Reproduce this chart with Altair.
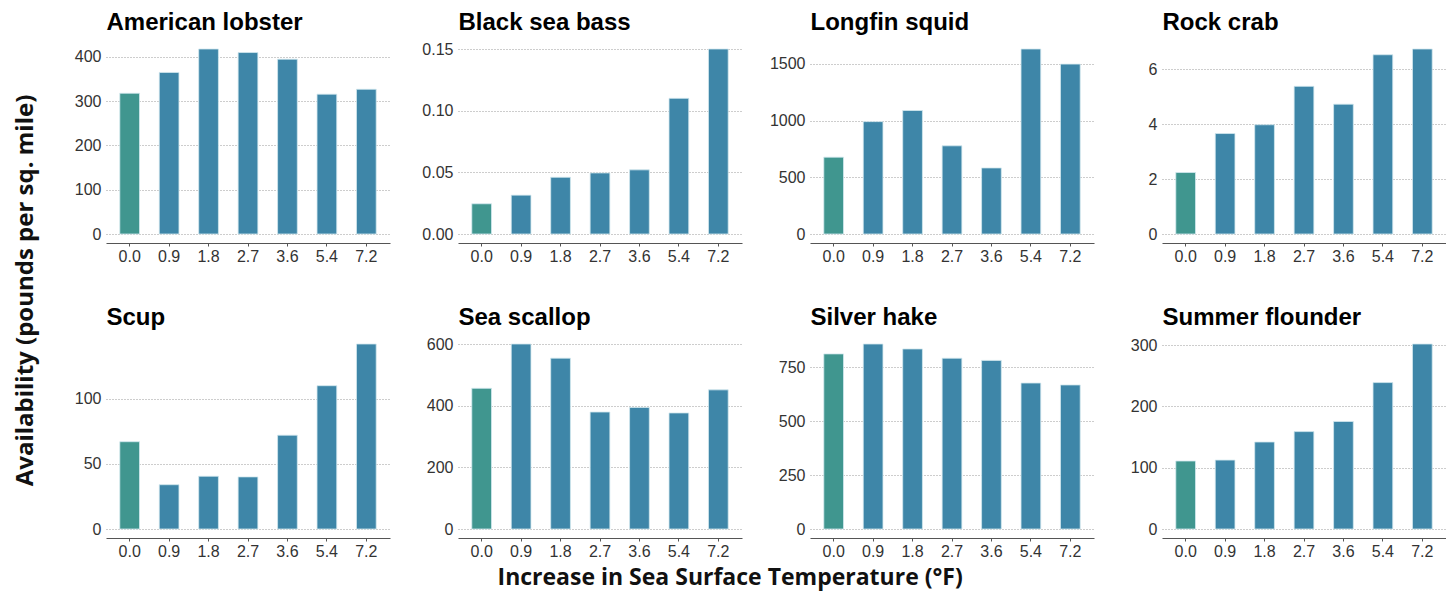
import altair as alt
import pandas as pd

# ---- data ----
temps = ["0.0", "0.9", "1.8", "2.7", "3.6", "5.4", "7.2"]
species = ["American lobster", "Black sea bass", "Longfin squid", "Rock crab",
           "Scup", "Sea scallop", "Silver hake", "Summer flounder"]

american_lobster = [318, 365, 418, 410, 395, 316, 327]
black_sea_bass = [0.0245, 0.0315, 0.046, 0.0495, 0.052, 0.110, 0.150]
longfin_squid = [677, 990, 1088, 777, 582, 1630, 1497]
rock_crab = [2.24, 3.66, 3.98, 5.38, 4.73, 6.53, 6.74]
scup = [67, 34, 40.5, 40, 72, 110, 142]
sea_scallop = [457, 601, 555, 380, 395, 377, 452]
silver_hake = [812, 858, 835, 792, 782, 677, 668]
summer_flounder = [111, 112.5, 142, 159, 175.5, 239, 302]

values = [american_lobster, black_sea_bass, longfin_squid, rock_crab,
          scup, sea_scallop, silver_hake, summer_flounder]

ticks_lobster = [0, 100, 200, 300, 400]
ticks_bass = [0.0, 0.05, 0.10, 0.15]
ticks_squid = [0, 500, 1000, 1500]
ticks_crab = [0, 2, 4, 6]
ticks_scup = [0, 50, 100]
ticks_scallop = [0, 200, 400, 600]
ticks_hake = [0, 250, 500, 750]
ticks_flounder = [0, 100, 200, 300]
tick_sets = [ticks_lobster, ticks_bass, ticks_squid, ticks_crab,
             ticks_scup, ticks_scallop, ticks_hake, ticks_flounder]
formats = ["d", ".2f", "d", "d", "d", "d", "d", "d"]

LABEL_FONT = "Liberation Sans"
TITLE_FONT = "Open Sans"


def panel(name, vals, ticks, fmt):
    df = pd.DataFrame({
        "temp": temps,
        "value": vals,
        "scenario": ["Current" if t == "0.0" else "Warmer" for t in temps],
    })
    return alt.Chart(df).mark_bar(stroke="#d3e8ef", strokeWidth=0.8).encode(
        x=alt.X("temp:N", sort=temps, title=None,
                scale=alt.Scale(paddingInner=0.5, paddingOuter=0.35),
                axis=alt.Axis(labelAngle=0, offset=9, domainColor="#555555",
                              domainWidth=1.2, tickSize=3, tickColor="#555555",
                              labelPadding=2, grid=False, labelFont=LABEL_FONT,
                              labelFontSize=16, labelColor="#333333")),
        y=alt.Y("value:Q", title=name,
                scale=alt.Scale(nice=False, zero=True),
                axis=alt.Axis(values=ticks, format=fmt, domain=False, ticks=False,
                              tickSize=0, labelPadding=5, labelFont=LABEL_FONT,
                              labelFontSize=16, labelColor="#333333",
                              grid=True, gridDash=[1, 2], gridColor="#8f8f8f",
                              gridWidth=0.9,
                              titleAngle=0, titleX=0, titleY=-20,
                              titleAlign="left", titleBaseline="alphabetic",
                              titleFont=LABEL_FONT, titleFontSize=24,
                              titleFontWeight="bold", titleColor="#000000")),
        color=alt.Color("scenario:N",
                        scale=alt.Scale(domain=["Current", "Warmer"],
                                        range=["#40968f", "#3e86a8"]),
                        legend=None),
    ).properties(width=284, height=185)


panels = [panel(n, v, t, f) for n, v, t, f in zip(species, values, tick_sets, formats)]

grid = alt.concat(
    *panels, columns=4,
    spacing=alt.RowColnumber(row=110, column=68),
    bounds="flush",
).resolve_scale(y="independent", x="independent").properties(
    title=alt.TitleParams("Availability (pounds per sq. mile)", orient="left",
                          anchor="middle", font=TITLE_FONT, fontSize=24,
                          fontWeight="bold", color="#111111", offset=36, dx=-6)
)

chart = alt.hconcat(grid).properties(
    title=alt.TitleParams("Increase in Sea Surface Temperature (°F)", orient="bottom",
                          anchor="middle", baseline="top", font=TITLE_FONT,
                          fontSize=23, fontWeight="bold", color="#111111", offset=8),
    padding={"left": 6, "top": 2, "right": 0, "bottom": 3},
    background="white",
).configure_view(strokeWidth=0)

chart.save("out.html", embed_options={"renderer": "svg", "actions": False})
